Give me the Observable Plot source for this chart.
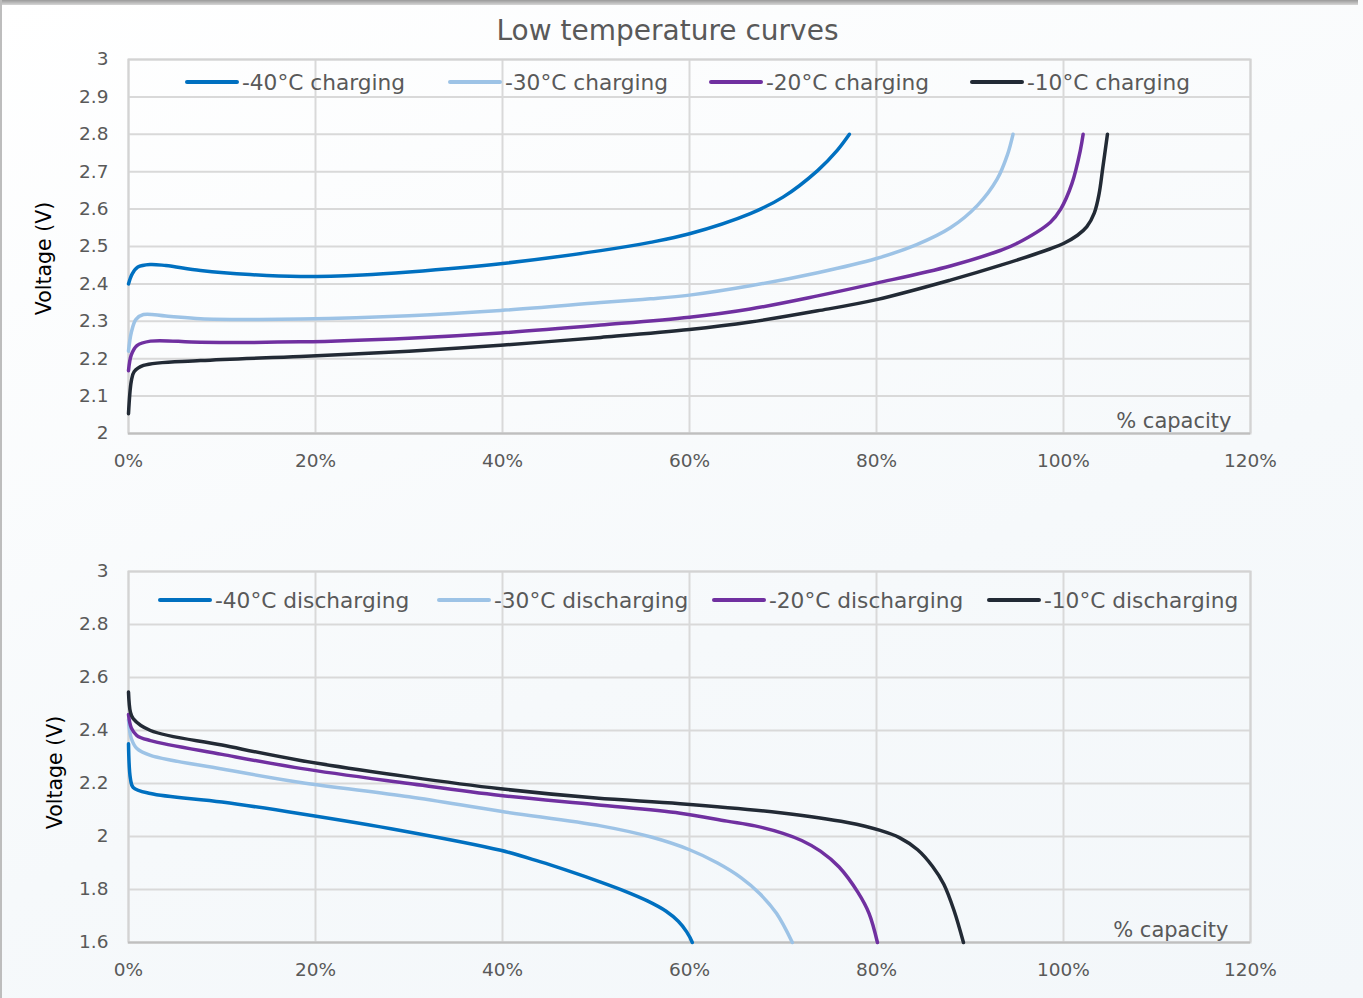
<!DOCTYPE html>
<html>
<head>
<meta charset="utf-8">
<script src="https://cdn.jsdelivr.net/npm/d3@7"></script>
<script src="https://cdn.jsdelivr.net/npm/@observablehq/plot@0.6"></script>
<style>
  html, body { margin: 0; padding: 0; background: #ffffff; }
  #wrap {
    position: relative; width: 1363px; height: 998px; overflow: hidden;
    background: linear-gradient(160deg, #ffffff 0%, #f6f9fb 60%, #f3f7fa 100%);
    font-family: "DejaVu Sans", sans-serif; color: #595959;
  }
  #topbar { position: absolute; left: 0; top: 0; width: 1358px; height: 5px;
    background: linear-gradient(180deg, #9a9a9a, #d6d6d6); }
  #leftbar { position: absolute; left: 0; top: 0; width: 2px; height: 998px; background: #bdbdbd; }
  #title { position: absolute; top: 14px; left: 0; width: 1335px; text-align: center;
    font-size: 28px; color: #595959; }
  .chart { position: absolute; left: 0; }
  .leg { position: absolute; display: flex; align-items: center; font-size: 21.7px; color: #595959; white-space: nowrap; }
  .leg .sw { width: 54px; height: 4px; border-radius: 2px; margin-right: 3px; }
</style>
</head>
<body>
<div id="wrap">
  <div id="topbar"></div>
  <div id="leftbar"></div>
  <div id="title">Low temperature curves</div>
  <div id="c1" class="chart" style="top:0px"></div>
  <div id="c2" class="chart" style="top:490px"></div>
</div>
<script>
// ---------- data ----------
const seriesNames = ["-40°C", "-30°C", "-20°C", "-10°C"];
const seriesColors = ["#0070c0", "#9dc3e6", "#7030a0", "#222a35"];

const xTicks = [0, 20, 40, 60, 80, 100, 120];
const yTicksCharge = [2, 2.1, 2.2, 2.3, 2.4, 2.5, 2.6, 2.7, 2.8, 2.9, 3];
const yTicksDischarge = [1.6, 1.8, 2, 2.2, 2.4, 2.6, 2.8, 3];

// charging curves (% capacity, volts)
const c40x = [0, 0.4, 1, 2.3, 4, 7.7, 13, 18.4, 25, 30, 39.8, 50.5, 55.8, 60, 66.5, 70, 73.7, 75.8, 77.1];
const c40y = [2.40, 2.427, 2.445, 2.452, 2.449, 2.436, 2.425, 2.42, 2.424, 2.432, 2.454, 2.489, 2.511, 2.534, 2.588, 2.632, 2.703, 2.757, 2.80];
const c30x = [0, 0.3, 0.8, 1.6, 4, 7.7, 13, 18.4, 30, 39.8, 50.5, 55.8, 60, 66.5, 73.7, 80, 84.3, 87.9, 90.8, 92.9, 94, 94.6];
const c30y = [2.22, 2.27, 2.305, 2.318, 2.314, 2.307, 2.305, 2.306, 2.315, 2.329, 2.35, 2.36, 2.37, 2.395, 2.43, 2.468, 2.505, 2.55, 2.61, 2.68, 2.745, 2.80];
const c20x = [0, 0.3, 0.9, 2.35, 7.7, 18.4, 30, 39.8, 50.5, 60, 66.5, 73.7, 80, 87.9, 93.3, 95, 98.6, 99.7, 100.9, 101.8, 102.1];
const c20y = [2.168, 2.21, 2.235, 2.247, 2.244, 2.245, 2.255, 2.269, 2.29, 2.311, 2.333, 2.368, 2.402, 2.448, 2.49, 2.508, 2.565, 2.60, 2.668, 2.757, 2.80];
const c10x = [0, 0.3, 0.6, 1.6, 7.7, 18.4, 30, 39.8, 50.5, 60, 66.5, 73.7, 80, 87.9, 93.3, 98.6, 100, 101.5, 102.5, 103.3, 103.8, 104.2, 104.7];
const c10y = [2.053, 2.14, 2.165, 2.182, 2.195, 2.206, 2.22, 2.236, 2.257, 2.278, 2.298, 2.328, 2.358, 2.41, 2.45, 2.494, 2.508, 2.53, 2.553, 2.59, 2.64, 2.71, 2.80];

// discharging curves
const d40x = [0, 0.2, 0.5, 2.35, 10, 18.4, 29.1, 39.8, 44, 46.9, 50.5, 53, 55.5, 57.5, 58.8, 59.7, 60.3];
const d40y = [2.35, 2.22, 2.185, 2.162, 2.13, 2.086, 2.023, 1.948, 1.905, 1.872, 1.828, 1.795, 1.757, 1.718, 1.68, 1.64, 1.60];
const d30x = [0, 0.3, 0.9, 2.35, 10, 18.4, 30, 39.8, 50.5, 56, 60, 63, 65.5, 67.5, 69.3, 71];
const d30y = [2.44, 2.37, 2.332, 2.306, 2.255, 2.204, 2.15, 2.095, 2.04, 1.997, 1.95, 1.90, 1.845, 1.785, 1.71, 1.60];
const d20x = [0, 0.3, 0.9, 2.35, 10, 18.4, 30, 39.8, 50, 59, 64, 67, 70, 72, 74, 76, 78, 79.2, 80.1];
const d20y = [2.46, 2.41, 2.381, 2.362, 2.31, 2.257, 2.2, 2.155, 2.12, 2.088, 2.058, 2.04, 2.012, 1.985, 1.945, 1.885, 1.79, 1.71, 1.60];
const d10x = [0, 0.2, 0.5, 2.35, 10, 18.4, 30, 39.8, 50, 59, 69.7, 76.9, 80.4, 82.5, 84.4, 86, 87.2, 88.3, 89.3];
const d10y = [2.545, 2.47, 2.445, 2.40, 2.345, 2.287, 2.225, 2.18, 2.145, 2.124, 2.09, 2.053, 2.023, 1.995, 1.95, 1.887, 1.82, 1.72, 1.60];

// ---------- helpers ----------
function build(pairs) {
  const rows = [];
  pairs.forEach(([xs, ys], i) => xs.forEach((x, j) => rows.push({x, y: ys[j], s: seriesNames[i]})));
  return rows;
}
const chargeData = build([[c40x, c40y], [c30x, c30y], [c20x, c20y], [c10x, c10y]]);
const dischargeData = build([[d40x, d40y], [d30x, d30y], [d20x, d20y], [d10x, d10y]]);

const FONT = '"DejaVu Sans", sans-serif';
const GRID = "#d9d9d9";
const TXT = "#595959";

function makeChart({height, marginTop, marginBottom, yDomain, yTicks, data, labelDx, labelDy, capDx, capDy}) {
  return Plot.plot({
    width: 1363, height,
    marginTop, marginBottom, marginLeft: 128, marginRight: 113,
    style: {fontFamily: FONT, background: "transparent", color: TXT, overflow: "visible"},
    x: {domain: [0, 120]},
    y: {domain: yDomain},
    color: {domain: seriesNames, range: seriesColors},
    marks: [
      Plot.gridX(xTicks, {stroke: GRID, strokeOpacity: 1, strokeWidth: 2}),
      Plot.gridY(yTicks, {stroke: GRID, strokeOpacity: 1, strokeWidth: 2}),
      Plot.frame({stroke: "#d3d3d3", strokeWidth: 2}),
      Plot.ruleY([yDomain[0]], {stroke: "#bfbfbf", strokeWidth: 2}),
      Plot.axisX({ticks: xTicks, tickFormat: d => d + "%", tickSize: 0, tickPadding: 20, fontSize: 18.5, label: null, fill: TXT}),
      Plot.axisY({ticks: yTicks, tickFormat: d => d3.format("~g")(d), tickSize: 0, tickPadding: 20, fontSize: 18.5, label: null, fill: TXT}),
      Plot.text(["Voltage (V)"], {frameAnchor: "left", rotate: -90, textAnchor: "middle", dx: labelDx, dy: labelDy, fontSize: 20.5, fill: "#000000"}),
      Plot.text(["% capacity"], {frameAnchor: "bottom-right", dx: capDx, dy: capDy, fontSize: 21, fill: TXT}),
      Plot.line(data, {x: "x", y: "y", z: "s", stroke: "s", strokeWidth: 3.5, curve: "catmull-rom", strokeLinecap: "round"})
    ]
  });
}

document.getElementById("c1").appendChild(makeChart({
  height: 490, marginTop: 59, marginBottom: 57,
  yDomain: [2, 3], yTicks: yTicksCharge,
  data: chargeData, labelDx: -84, labelDy: 12, capDx: -19, capDy: -6
}));
document.getElementById("c2").appendChild(makeChart({
  height: 508, marginTop: 81, marginBottom: 56,
  yDomain: [1.6, 3], yTicks: yTicksDischarge,
  data: dischargeData, labelDx: -73, labelDy: 15.5, capDx: -22, capDy: -6
}));

// ---------- legends (HTML overlays) ----------
const wrap = document.getElementById("wrap");
function legend(top, lefts, suffix) {
  seriesNames.forEach((n, i) => {
    const d = document.createElement("div");
    d.className = "leg";
    d.style.top = (top - 15) + "px";
    d.style.left = lefts[i] + "px";
    d.style.height = "30px";
    d.innerHTML = `<div class="sw" style="background:${seriesColors[i]}"></div><span>${n} ${suffix}</span>`;
    wrap.appendChild(d);
  });
}
legend(82, [185, 448, 709, 970], "charging");
legend(600, [158, 437, 712, 987], "discharging");
</script>
</body>
</html>
